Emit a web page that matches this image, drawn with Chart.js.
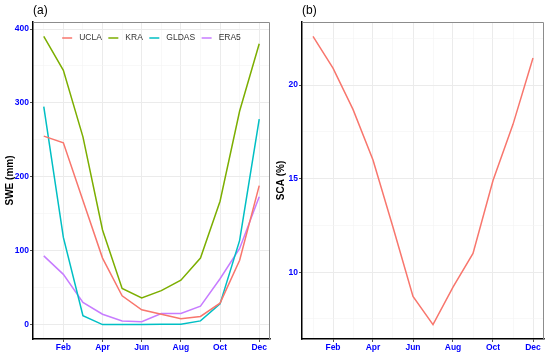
<!DOCTYPE html>
<html><head><meta charset="utf-8">
<script src="https://cdn.jsdelivr.net/npm/chart.js@4"></script>
<style>
html,body{margin:0;padding:0;background:#fff;overflow:hidden;}
#ca{position:absolute;left:0;top:0;}
#cb{position:absolute;left:275px;top:0;}
</style></head><body>
<canvas id="ca" width="275" height="358"></canvas>
<canvas id="cb" width="275" height="358"></canvas>
<script>
const months = [1,2,3,4,5,6,7,8,9,10,11,12];
const monthLabels = ['Jan','Feb','Mar','Apr','May','Jun','Jul','Aug','Sep','Oct','Nov','Dec'];
const ucla  = [255, 246, 168, 90, 39, 20, 14, 8, 11, 29, 87, 188];
const kra   = [390, 344, 254, 128, 49, 36, 46, 60, 90, 167, 289, 380];
const gldas = [295, 118, 12, 0, 0, 0, 0.5, 0.5, 5, 28, 114, 278];
const era5  = [93, 68, 30, 14, 5, 4, 15, 15, 25, 62, 103, 173];
const sca   = [22.6, 20.9, 18.7, 16.0, 12.4, 8.7, 7.2, 9.2, 11.0, 14.9, 17.9, 21.45];
const sweTicks = [0,50,100,150,200,250,300,350,400];
const sweLabelled = [0,100,200,300,400];
const scaTicks = [7.5,10,12.5,15,17.5,20,22.5];
const scaLabelled = [10,15,20];

const FONT = "'Liberation Sans', Arial, sans-serif";
Chart.defaults.font.family = FONT;

function pts(arr){ return months.map((m,i)=>({x:m, y:arr[i]})); }

const panelPlugin = {
  id: 'panelDeco',
  afterDraw(chart, args, opts){
    const {ctx, chartArea:a} = chart;
    ctx.save();
    ctx.strokeStyle = '#8c8c8c';
    ctx.lineWidth = 1;
    ctx.beginPath();
    ctx.moveTo(a.left, a.top+0.5); ctx.lineTo(a.right-0.5, a.top+0.5); ctx.lineTo(a.right-0.5, a.bottom);
    ctx.stroke();
    ctx.fillStyle = '#000';
    ctx.font = '12px ' + FONT;
    ctx.textBaseline = 'middle';
    ctx.textAlign = 'left';
    ctx.fillText(opts.label, a.left, 11);
    if (opts.legend) {
      ctx.font = '8.5px ' + FONT;
      const lineW = 10, gapText = 7, gapItem = 6.5;
      const items = chart.data.datasets.map(d=>({label:d.label, color:d.borderColor, w:ctx.measureText(d.label).width}));
      let total = 0;
      items.forEach((it,i)=>{ total += lineW + gapText + it.w + (i<items.length-1 ? gapItem : 0); });
      let x = (a.left + a.right)/2 - total/2;
      const y = a.top + 16;
      items.forEach(it=>{
        ctx.strokeStyle = it.color; ctx.lineWidth = 1.5;
        ctx.beginPath(); ctx.moveTo(x, y); ctx.lineTo(x+lineW, y); ctx.stroke();
        x += lineW + gapText;
        ctx.fillStyle = '#333';
        ctx.fillText(it.label, x, y);
        x += it.w + gapItem;
      });
    }
    ctx.restore();
  }
};

function xScale(){
  return {
    type:'linear', min:0.45, max:12.55,
    afterBuildTicks(s){ s.ticks = months.map(v=>({value:v})); },
    afterFit(s){ s.height = 19; },
    ticks:{ autoSkip:false, maxRotation:0, padding:1, color:'#0000ff',
      font:{size:8.5, weight:'bold'},
      callback:(v)=> (v%2===0 ? monthLabels[v-1] : '') },
    grid:{ color:(c)=> (c.tick && c.tick.value%2===0 ? '#ebebeb' : '#f4f4f4'),
      lineWidth:(c)=> (c.tick && c.tick.value%2===0 ? 1 : 0.6),
      tickColor:(c)=> (c.tick && c.tick.value%2===0 ? '#555' : 'rgba(0,0,0,0)'),
      tickLength:3, tickWidth:1 },
    border:{ display:true, color:'#000', width:1.5 }
  };
}
function yScale(min,max,ticks,labelled,width,title,titlePad){
  return {
    type:'linear', min:min, max:max,
    afterBuildTicks(s){ s.ticks = ticks.map(v=>({value:v})); },
    afterFit(s){ s.width = width; },
    ticks:{ autoSkip:false, padding:1, color:'#0000ff', font:{size:8.5, weight:'bold'},
      callback:(v)=> (labelled.includes(v) ? String(v) : '') },
    grid:{ color:(c)=> (c.tick && labelled.includes(c.tick.value) ? '#ebebeb' : '#f4f4f4'),
      lineWidth:(c)=> (c.tick && labelled.includes(c.tick.value) ? 1 : 0.6),
      tickColor:(c)=> (c.tick && labelled.includes(c.tick.value) ? '#555' : 'rgba(0,0,0,0)'),
      tickLength:3, tickWidth:1 },
    border:{ display:true, color:'#000', width:1.5 },
    title:{ display:true, text:title, color:'#000', font:{size:10, weight:'bold'},
      padding:{top:titlePad, bottom:0} }
  };
}
function ds(label, arr, color){
  return { label, data:pts(arr), borderColor:color, backgroundColor:color,
    borderWidth:1.5, pointRadius:0, tension:0, fill:false };
}

new Chart(document.getElementById('ca'), {
  type:'line',
  data:{ datasets:[
    ds('UCLA', ucla, '#F8766D'),
    ds('KRA', kra, '#7CAE00'),
    ds('GLDAS', gldas, '#00BFC4'),
    ds('ERA5', era5, '#C77CFF')
  ]},
  options:{
    responsive:false, animation:false, devicePixelRatio:1,
    layout:{ padding:{top:22, right:5, left:0, bottom:0} },
    scales:{ x:xScale(), y:yScale(-19.5, 409.5, sweTicks, sweLabelled, 33, 'SWE (mm)', 4) },
    plugins:{
      legend:{ display:false },
      tooltip:{enabled:false},
      panelDeco:{label:'(a)', legend:true}
    }
  },
  plugins:[panelPlugin]
});

new Chart(document.getElementById('cb'), {
  type:'line',
  data:{ datasets:[ ds('SCA', sca, '#F8766D') ]},
  options:{
    responsive:false, animation:false, devicePixelRatio:1,
    layout:{ padding:{top:22, right:6, left:0, bottom:0} },
    scales:{ x:xScale(), y:yScale(6.43, 23.37, scaTicks, scaLabelled, 27, 'SCA (%)', 0) },
    plugins:{ legend:{display:false}, tooltip:{enabled:false}, panelDeco:{label:'(b)', legend:false} }
  },
  plugins:[panelPlugin]
});
</script>
</body></html>
